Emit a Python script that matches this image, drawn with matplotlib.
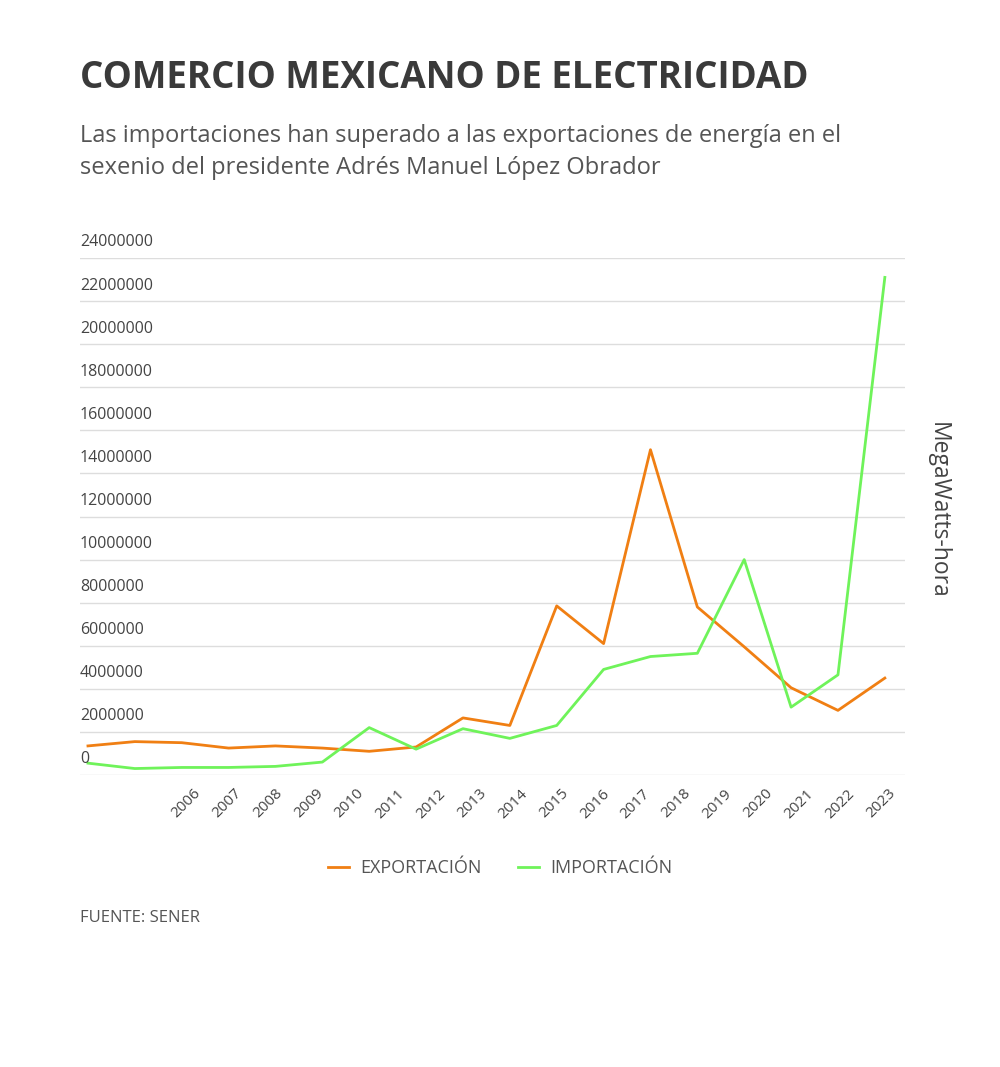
import matplotlib
matplotlib.use("Agg")
import matplotlib.pyplot as plt
import matplotlib.transforms as mtrans

plt.rcParams['font.family'] = ['Open Sans', 'DejaVu Sans']

years = list(range(2006, 2024))
exportacion = [1350000, 1550000, 1500000, 1250000, 1350000, 1250000, 1100000, 1300000,
               2650000, 2300000, 7850000, 6100000, 15100000, 7800000, 5950000, 4050000,
               3000000, 4500000]
importacion = [550000, 300000, 350000, 350000, 400000, 600000, 2200000, 1200000,
               2150000, 1700000, 2300000, 4900000, 5500000, 5650000, 10000000, 3150000,
               4650000, 23100000]
yticks = list(range(0, 24000001, 2000000))

W, H = 1000, 1067
fig = plt.figure(figsize=(W / 100, H / 100), dpi=100)
fig.patch.set_facecolor("white")
ax = fig.add_axes([80 / W, 1 - 775 / H, (905 - 80) / W, (775 - 258) / H])

ax.plot(years, exportacion, color="#f07f13", lw=2, label="EXPORTACIÓN")
ax.plot(years, importacion, color="#6ff35a", lw=2, label="IMPORTACIÓN")

ax.set_xlim(2005.83, 2023.43)
ax.set_ylim(0, 24000000)
ax.set_yticks(yticks)
ax.yaxis.grid(True, color="#dddddd", lw=1)
ax.tick_params(axis="y", length=0, labelleft=False)
ax.set_xticks(years)
ax.set_xticklabels([str(y) for y in years], rotation=45, ha="right",
                   rotation_mode="anchor", fontsize=11, color="#444444")
ax.tick_params(axis="x", length=0, pad=8)
# labels sit shifted right of the data points in the reference
for i, lbl in enumerate(ax.get_xticklabels()):
    off = (105 - 6 * i) / 100
    lbl.set_transform(lbl.get_transform() + mtrans.ScaledTranslation(off, 0, fig.dpi_scale_trans))
for s in ax.spines.values():
    s.set_visible(False)

tr = mtrans.blended_transform_factory(fig.transFigure, ax.transData)
for v in yticks:
    ax.text(80 / W, v + 350000, str(v), transform=tr, fontsize=11.5,
            color="#444444", va="bottom", ha="left")

fig.text(938 / W, 1 - 510 / H, "MegaWatts-hora", rotation=-90, fontsize=16.5,
         color="#444444", ha="center", va="center")

fig.text(80 / W, 1 - 78 / H, "COMERCIO MEXICANO DE ELECTRICIDAD", fontsize=26.5,
         fontweight="bold", color="#3a3a3a", ha="left", va="center")
fig.text(80 / W, 1 - 152 / H,
         "Las importaciones han superado a las exportaciones de energía en el\n"
         "sexenio del presidente Adrés Manuel López Obrador",
         fontsize=17, color="#555555", ha="left", va="center", linespacing=1.45)

leg = fig.legend(loc="center", bbox_to_anchor=(500 / W, 1 - 868 / H), ncol=2,
                 frameon=False, fontsize=13, handlelength=1.2, columnspacing=2.0,
                 handletextpad=0.6)
for t in leg.get_texts():
    t.set_color("#555555")

fig.text(80 / W, 1 - 918 / H, "FUENTE: SENER", fontsize=12, color="#555555",
         ha="left", va="center")

fig.savefig("out.png", dpi=100)
